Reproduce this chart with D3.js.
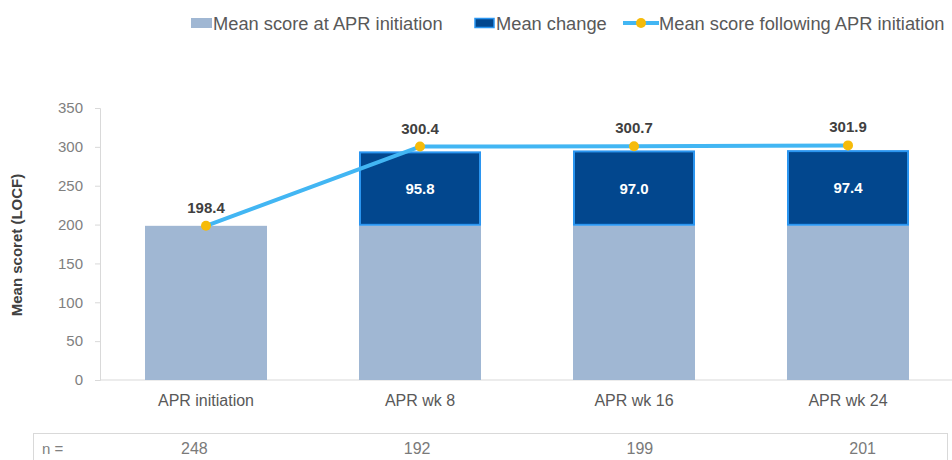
<!DOCTYPE html>
<html>
<head>
<meta charset="utf-8">
<script src="https://cdn.jsdelivr.net/npm/d3@7/dist/d3.min.js"></script>
<style>
  html, body { margin: 0; padding: 0; background: #fff; }
  svg { display: block; font-family: "Liberation Sans", Arial, Helvetica, sans-serif; }
</style>
</head>
<body>
<svg id="chart" width="952" height="460"></svg>
<script>
// Mean score per visit (LOCF)
const categories = ["APR initiation", "APR wk 8", "APR wk 16", "APR wk 24"];
const scoreAtInitiation = [198.4, 198.4, 198.4, 198.4];
const meanChange = [null, 95.8, 97.0, 97.4];
const scoreFollowing = [198.4, 300.4, 300.7, 301.9];
const sampleSizes = [248, 192, 199, 201];
const yTicks = [0, 50, 100, 150, 200, 250, 300, 350];

const legendLabels = ["Mean score at APR initiation", "Mean change", "Mean score following APR initiation"];

const colors = {
  base: "#a0b7d3",
  change: "#02478e",
  changeEdge: "#2a95f0",
  line: "#42b6f3",
  point: "#f6bb0a",
  axis: "#d9d9d9",
  tick: "#808080",
  label: "#404040"
};

const svg = d3.select("#chart");

const x = d3.scaleBand()
  .domain(categories)
  .range([99, 955])
  .paddingInner(0.43)
  .paddingOuter(0.215);

const y = d3.scaleLinear().domain([0, 350]).range([380, 108]);

// Y axis
const yAxis = svg.append("g")
  .attr("transform", "translate(100,0)")
  .call(d3.axisLeft(y).tickValues(yTicks).tickSize(5).tickPadding(12));
yAxis.select(".domain").attr("stroke", colors.axis);
yAxis.selectAll(".tick line").attr("stroke", colors.axis);
yAxis.selectAll(".tick text")
  .attr("fill", colors.tick)
  .style("font-size", "15px")
  .style("font-family", "'Liberation Sans', Arial, sans-serif");

// Baseline axis
svg.append("line")
  .attr("x1", 100).attr("x2", 952)
  .attr("y1", y(0)).attr("y2", y(0))
  .attr("stroke", colors.axis).attr("stroke-width", 1);

// Y axis title
svg.append("text")
  .attr("transform", `translate(22,${(y(0) + y(350)) / 2 + 1}) rotate(-90)`)
  .attr("text-anchor", "middle")
  .attr("fill", colors.label)
  .style("font-size", "15px")
  .style("font-weight", "bold")
  .text("Mean scoret (LOCF)");

const rows = categories.map((c, i) => ({
  cat: c,
  base: scoreAtInitiation[i],
  change: meanChange[i],
  follow: scoreFollowing[i],
  n: sampleSizes[i]
}));

// Bars: score at initiation
svg.append("g").selectAll("rect")
  .data(rows)
  .join("rect")
  .attr("x", d => x(d.cat))
  .attr("width", x.bandwidth())
  .attr("y", d => y(d.base))
  .attr("height", d => y(0) - y(d.base))
  .attr("fill", colors.base);

// Bars: mean change stacked on top
const changeRows = rows.filter(d => d.change != null);
svg.append("g").selectAll("rect")
  .data(changeRows)
  .join("rect")
  .attr("x", d => x(d.cat) + 1)
  .attr("width", x.bandwidth() - 2)
  .attr("y", d => y(d.base + d.change) + 1)
  .attr("height", d => y(d.base) - y(d.base + d.change) - 2)
  .attr("fill", colors.change)
  .attr("stroke", colors.changeEdge)
  .attr("stroke-width", 2);

svg.append("g").selectAll("text")
  .data(changeRows)
  .join("text")
  .attr("x", d => x(d.cat) + x.bandwidth() / 2)
  .attr("y", d => (y(d.base) + y(d.base + d.change)) / 2 + 5.5)
  .attr("text-anchor", "middle")
  .attr("fill", "#ffffff")
  .style("font-size", "15px")
  .style("font-weight", "bold")
  .text(d => d.change.toFixed(1));

// Line: score following initiation
const cx = d => x(d.cat) + x.bandwidth() / 2;
svg.append("path")
  .datum(rows)
  .attr("fill", "none")
  .attr("stroke", colors.line)
  .attr("stroke-width", 4)
  .attr("stroke-linejoin", "round")
  .attr("d", d3.line().x(cx).y(d => y(d.follow)));

svg.append("g").selectAll("circle")
  .data(rows)
  .join("circle")
  .attr("cx", cx)
  .attr("cy", d => y(d.follow))
  .attr("r", 5)
  .attr("fill", colors.point);

svg.append("g").selectAll("text")
  .data(rows)
  .join("text")
  .attr("x", cx)
  .attr("y", d => y(d.follow) - 13)
  .attr("text-anchor", "middle")
  .attr("fill", colors.label)
  .style("font-size", "15px")
  .style("font-weight", "bold")
  .text(d => d.follow.toFixed(1));

// Category labels
svg.append("g").selectAll("text")
  .data(rows)
  .join("text")
  .attr("x", cx)
  .attr("y", 406)
  .attr("text-anchor", "middle")
  .attr("fill", "#595959")
  .style("font-size", "16px")
  .text(d => d.cat);

// Sample size table row
const xN = d3.scaleBand().domain(categories).range([83, 974]);
svg.append("rect")
  .attr("x", 33.5).attr("y", 433.5)
  .attr("width", 914).attr("height", 40)
  .attr("fill", "none")
  .attr("stroke", colors.axis);
svg.append("text")
  .attr("x", 42).attr("y", 454)
  .attr("fill", "#808080")
  .style("font-size", "15px")
  .text("n =");
svg.append("g").selectAll("text")
  .data(rows)
  .join("text")
  .attr("x", d => xN(d.cat) + xN.bandwidth() / 2)
  .attr("y", 454)
  .attr("text-anchor", "middle")
  .attr("fill", "#7a7a7a")
  .style("font-size", "16px")
  .text(d => d.n);

// Legend
const legend = svg.append("g").style("font-size", "18.3px").attr("fill", "#595959");
legend.append("rect").attr("x", 191).attr("y", 18).attr("width", 21).attr("height", 10).attr("fill", colors.base);
legend.append("text").attr("x", 213).attr("y", 29.5).text(legendLabels[0]);
legend.append("rect").attr("x", 475).attr("y", 18.5).attr("width", 19).attr("height", 9)
  .attr("fill", colors.change).attr("stroke", colors.changeEdge).attr("stroke-width", 1.5);
legend.append("text").attr("x", 496).attr("y", 29.5).text(legendLabels[1]);
legend.append("line").attr("x1", 623).attr("x2", 659).attr("y1", 23).attr("y2", 23)
  .attr("stroke", colors.line).attr("stroke-width", 4);
legend.append("circle").attr("cx", 641).attr("cy", 23).attr("r", 5).attr("fill", colors.point);
legend.append("text").attr("x", 659).attr("y", 29.5).text(legendLabels[2]);
</script>
</body>
</html>
